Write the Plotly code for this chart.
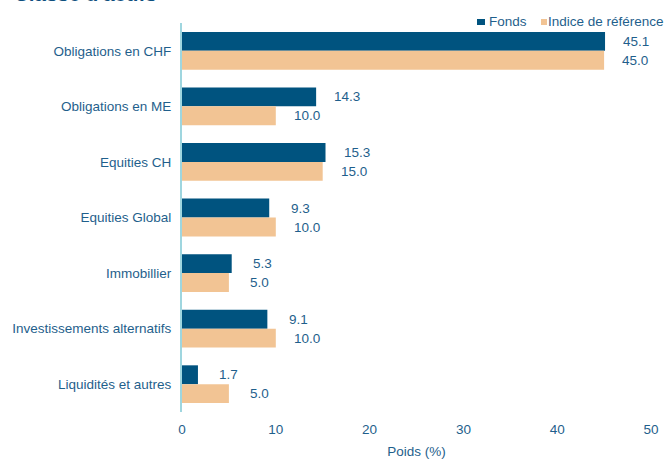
import plotly.graph_objects as go

categories = ["Obligations en CHF", "Obligations en ME", "Equities CH", "Equities Global",
              "Immobillier", "Investissements alternatifs", "Liquidités et autres"]
fonds = [45.1, 14.3, 15.3, 9.3, 5.3, 9.1, 1.7]
indice = [45.0, 10.0, 15.0, 10.0, 5.0, 10.0, 5.0]
series_names = ["Fonds", "Indice de référence"]
x_ticks = [0, 10, 20, 30, 40, 50]
title_text = "Classe d'actifs"

DARK = "#00537f"
LIGHT = "#f2c494"
TXT = "#1f5f8c"
FONT = "Liberation Sans, Arial, sans-serif"
FS = 13.5

fig = go.Figure()
fig.add_trace(go.Bar(y=categories, x=fonds, name=series_names[0], orientation="h",
                     marker=dict(color=DARK, line=dict(width=0)), showlegend=False))
fig.add_trace(go.Bar(y=categories, x=indice, name=series_names[1], orientation="h",
                     marker=dict(color=LIGHT, line=dict(width=0)), showlegend=False))

# value labels
for i, cat in enumerate(categories):
    for tr, vals in enumerate([fonds, indice]):
        fig.add_annotation(x=vals[i], y=cat, text=f"{vals[i]:.1f}", showarrow=False,
                           xanchor="center", xshift=31, yshift=(9.5 if tr == 0 else -9.5),
                           font=dict(family=FONT, size=FS, color=TXT))

# legend (markers + text)
for color, (x0, x1) in [(DARK, (-174, -166)), (LIGHT, (-110, -104))]:
    fig.add_shape(type="rect", xref="paper", yref="paper", xsizemode="pixel",
                  ysizemode="pixel", xanchor=1, yanchor=1, x0=x0, x1=x1, y0=-2, y1=4,
                  fillcolor=color, line=dict(width=0))
fig.add_annotation(x=1, xref="paper", y=1, yref="paper", text=series_names[0],
                   showarrow=False, xanchor="left", yanchor="middle", xshift=-164, yshift=2,
                   font=dict(family=FONT, size=FS, color=TXT))
fig.add_annotation(x=1, xref="paper", y=1, yref="paper", text=series_names[1],
                   showarrow=False, xanchor="right", yanchor="middle", xshift=15, yshift=2,
                   font=dict(family=FONT, size=FS, color=TXT))

fig.add_annotation(x=0, xref="paper", y=1, yref="paper", text=f"<b>{title_text}</b>",
                   showarrow=False, xanchor="left", yanchor="bottom",
                   xshift=-170, yshift=16,
                   font=dict(family=FONT, size=20.5, color="#0d4f7e"))

fig.update_layout(
    width=668, height=459,
    margin=dict(l=182, r=17, t=23, b=47, autoexpand=False),
    paper_bgcolor="white", plot_bgcolor="white",
    barmode="group", bargap=0.32, bargroupgap=0,
    font=dict(family=FONT, size=FS, color=TXT),
    showlegend=False,
)
fig.update_xaxes(range=[0, 50], tickvals=x_ticks, showgrid=False, zeroline=False,
                 showline=False, ticks="", ticklabelstandoff=7,
                 title=dict(text="Poids (%)", standoff=11,
                            font=dict(family=FONT, size=FS, color=TXT)),
                 tickfont=dict(family=FONT, size=FS, color=TXT))
fig.update_yaxes(autorange="reversed", showgrid=False, zeroline=False, showline=True,
                 linecolor="#9fd6df", linewidth=2, ticks="", ticklabelstandoff=6,
                 tickfont=dict(family=FONT, size=FS, color=TXT))

fig.write_html("out.html", config={"displayModeBar": False},
               post_script="document.body.style.margin='0px';")
